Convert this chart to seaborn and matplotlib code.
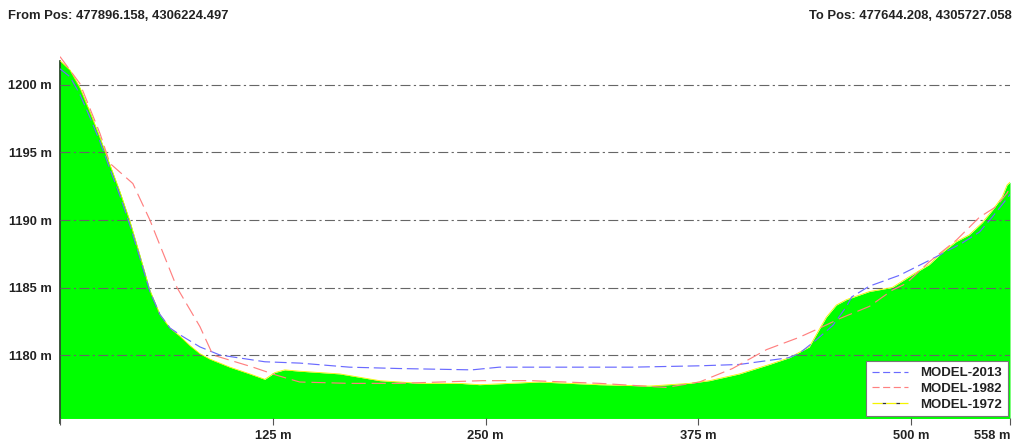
import matplotlib
matplotlib.use("Agg")
import matplotlib.pyplot as plt
import seaborn as sns
import pandas as pd

# Elevation profiles along the section line (distance in m, elevation in m)
dist_1972 = [0, 5.9, 11.7, 17.6, 23.5, 29.3, 35.2, 41.1, 46.9, 52.8, 58.7, 64.6, 70.4,
             76.3, 82.2, 88.0, 99.8, 111.5, 120.3, 126.2, 132.0, 140.8, 164.3, 187.8,
             211.3, 234.7, 246.5, 281.7, 316.9, 346.2, 369.7, 381.5, 399.1, 416.7,
             428.4, 440.1, 446.0, 450.1, 456.0, 461.9, 475.4, 488.8, 498.8, 510.6,
             518.2, 526.4, 534.0, 541.7, 547.5, 553.4, 556.3, 558]
elev_1972 = [1201.8, 1201.1, 1199.8, 1198.0, 1196.1, 1194.1, 1192.1, 1189.9, 1187.4,
             1184.8, 1183.0, 1182.0, 1181.4, 1180.7, 1180.1, 1179.7, 1179.1, 1178.6,
             1178.2, 1178.7, 1178.9, 1178.8, 1178.6, 1178.1, 1177.9, 1177.9, 1177.8,
             1178.0, 1177.8, 1177.7, 1177.9, 1178.1, 1178.6, 1179.3, 1179.8, 1180.6,
             1181.9, 1182.8, 1183.7, 1184.1, 1184.7, 1185.0, 1185.8, 1186.7, 1187.6,
             1188.4, 1188.9, 1189.8, 1190.7, 1191.7, 1192.6, 1192.8]

dist_2013 = [0, 5.9, 11.7, 17.6, 23.5, 29.3, 35.2, 41.1, 46.9, 52.8, 58.7, 64.6, 70.4,
             82.2, 93.9, 120.3, 141.0, 170.0, 199.0, 242.0, 258.0, 317.0, 336.0, 375.6,
             399.0, 428.0, 434.0, 444.0, 454.0, 462.0, 465.0, 475.4, 493.0, 512.0,
             530.0, 540.0, 547.5, 556.3, 558]
elev_2013 = [1201.2, 1200.6, 1199.3, 1197.6, 1195.8, 1193.8, 1191.8, 1189.6, 1187.2,
             1184.7, 1183.0, 1182.0, 1181.5, 1180.6, 1180.0, 1179.5, 1179.4, 1179.1,
             1179.0, 1178.9, 1179.1, 1179.1, 1179.1, 1179.2, 1179.3, 1179.8, 1180.1,
             1181.1, 1182.2, 1183.6, 1184.3, 1185.1, 1185.9, 1187.1, 1188.3, 1189.1,
             1190.2, 1191.6, 1191.9]

dist_1982 = [0, 11.7, 23.5, 29.3, 42.8, 52.8, 56.9, 68.7, 82.2, 89.8, 113.3, 127.3,
             140.8, 170.0, 199.0, 248.0, 277.0, 317.0, 356.0, 375.6, 395.0, 415.0,
             434.0, 448.0, 458.0, 475.4, 488.8, 497.0, 510.6, 526.4, 540.0, 550.0,
             556.3, 558]
elev_1982 = [1202.1, 1200.1, 1196.4, 1194.2, 1192.7, 1190.0, 1188.7, 1185.0, 1182.1,
             1180.0, 1179.1, 1178.5, 1178.0, 1177.9, 1177.9, 1178.1, 1178.1, 1177.9,
             1177.6, 1178.0, 1179.0, 1180.4, 1181.3, 1182.1, 1182.7, 1183.6, 1184.8,
             1185.3, 1186.9, 1188.5, 1190.2, 1191.0, 1192.0, 1192.4]

x_ticks = [0, 125, 250, 375, 500, 558]
x_tick_labels = ["", "125 m", "250 m", "375 m", "500 m", "558 m"]
y_ticks = [1180, 1185, 1190, 1195, 1200]
y_tick_labels = ["1180 m", "1185 m", "1190 m", "1195 m", "1200 m"]

from_label = "From Pos: 477896.158, 4306224.497"
to_label = "To Pos: 477644.208, 4305727.058"

df_1972 = pd.DataFrame({"dist": dist_1972, "elev": elev_1972})
df_1982 = pd.DataFrame({"dist": dist_1982, "elev": elev_1982})
df_2013 = pd.DataFrame({"dist": dist_2013, "elev": elev_2013})

sns.set_theme(style="white")
plt.rcParams["font.family"] = ["Liberation Sans", "DejaVu Sans"]
plt.rcParams["font.weight"] = "bold"

fig = plt.figure(figsize=(10.22, 4.44), dpi=100)
ax = fig.add_axes([60 / 1022, 0.0575, 950 / 1022, 0.8423])

y_min, y_max = 1175.3, 1203.0

# terrain surface (1972) as a filled profile
ax.fill_between(df_1972["dist"], df_1972["elev"], y_min, color="#00ff00", lw=0, zorder=1)

# horizontal dash-dot elevation guides
ax.set_axisbelow(False)
ax.yaxis.grid(True, color="#666666", lw=0.8, linestyle=(0, (9, 3, 2, 3)))
ax.xaxis.grid(False)

sns.lineplot(data=df_2013, x="dist", y="elev", ax=ax, color="#6a6aff", lw=0.85,
             label="MODEL-2013", sort=False, estimator=None, zorder=4,
             dashes=False)
sns.lineplot(data=df_1982, x="dist", y="elev", ax=ax, color="#ff8080", lw=0.85,
             label="MODEL-1982", sort=False, estimator=None, zorder=4,
             dashes=False)
sns.lineplot(data=df_1972, x="dist", y="elev", ax=ax, color="#f4f400", lw=0.6,
             label="MODEL-1972", sort=False, estimator=None, zorder=3,
             dashes=False)

lines = ax.get_lines()
lines[0].set_linestyle((0, (10, 4)))
lines[1].set_linestyle((0, (12, 5)))

ax.set_xlim(0, 558)
ax.set_ylim(y_min, y_max)
ax.set_xticks(x_ticks)
ax.set_xticklabels(x_tick_labels)
ax.set_yticks(y_ticks)
ax.set_yticklabels(y_tick_labels)
ax.set_xlabel("")
ax.set_ylabel("")

ax.tick_params(axis="x", which="both", bottom=True, length=5, width=0.8,
               color="#555555", labelsize=9.3, pad=3, direction="out")
ax.tick_params(axis="y", length=0, labelsize=9.3, pad=6)
for lab in ax.get_xticklabels() + ax.get_yticklabels():
    lab.set_fontweight("bold")
    lab.set_color("#222222")
# last distance label sits flush against the right end of the profile
ax.get_xticklabels()[-1].set_horizontalalignment("right")

for side in ["top", "right", "bottom"]:
    ax.spines[side].set_visible(False)
ax.spines["left"].set_color("#1a3a1a")
ax.spines["left"].set_linewidth(1.2)
ax.spines["left"].set_bounds(y_min - 0.35, y_max - 1.2)

leg = ax.legend(loc="lower right", frameon=True, fancybox=False, framealpha=1,
                edgecolor="#777777", handlelength=2.8, handletextpad=0.9,
                borderaxespad=0.15, labelspacing=0.25, borderpad=0.45,
                prop={"weight": "bold", "size": 9.5})
leg.get_frame().set_linewidth(0.8)
handles = leg.legend_handles
handles[0].set_linestyle((0, (6, 3)))
handles[1].set_linestyle((0, (6, 3)))
handles[2].set_linestyle((0, (8, 3)))
handles[2].set_linewidth(0.9)
handles[2].set_gapcolor("#333333")
for t in leg.get_texts():
    t.set_color("#222222")

fig.text(8 / 1022, 1 - 16 / 444, from_label, fontsize=9.4, fontweight="bold",
         color="#222222", ha="left", va="center")
fig.text(1012 / 1022, 1 - 16 / 444, to_label, fontsize=9.4, fontweight="bold",
         color="#222222", ha="right", va="center")

fig.savefig("out.png", dpi=100, facecolor="white")
